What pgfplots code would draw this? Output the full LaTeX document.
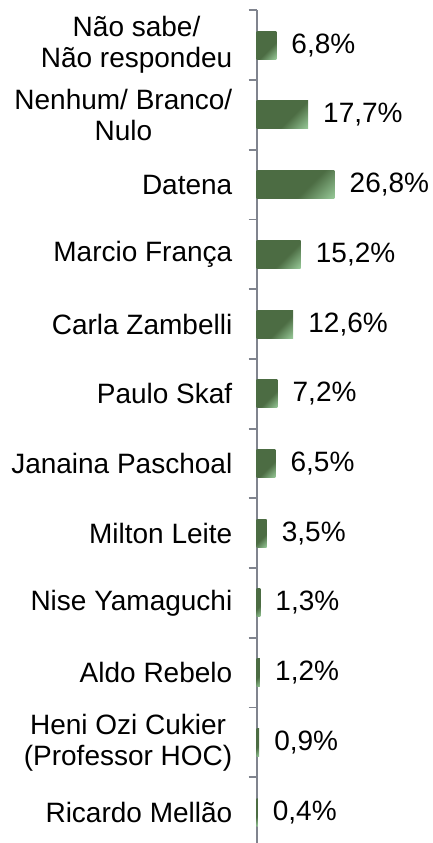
\documentclass[border=0pt]{standalone}
\usepackage{pgfplots}
\pgfplotsset{compat=1.18}
\usepackage{fontspec}
\setmainfont{Liberation Sans}
\definecolor{bardark}{RGB}{76,108,67}
\definecolor{barlight}{RGB}{160,212,162}
\definecolor{axisgray}{RGB}{128,132,142}
\pgfdeclarehorizontalshading{barshade}{100bp}{color(0bp)=(bardark); color(60bp)=(bardark); color(88bp)=(barlight); color(100bp)=(barlight)}
\newcommand{\lblfont}{\fontsize{28}{31}\selectfont}
\pgfplotsset{
  common/.style={
    at={(256.5pt,832.7pt)}, anchor=north west,
    scale only axis,
    width=145.5pt, height=836.7pt,
    xmin=0, xmax=50,
    ymin=-0.5, ymax=11.5,
    y dir=reverse,
    axis x line=none,
    axis y line=left,
    axis line style={-, draw=axisgray, line width=2pt},
    clip=false,
  },
  mybar/.style={xbar, bar width=28pt, bar shift=0pt, draw=none, shade, shading=barshade, shading angle=-45},
}
\begin{document}
\begin{tikzpicture}
\useasboundingbox (0,0) rectangle (432pt,843pt);
% axis with boundary ticks
\begin{axis}[
  common,
  ytick={-0.5,0.5,1.5,2.5,3.5,4.5,5.5,6.5,7.5,8.5,9.5,10.5,11.5},
  yticklabels={},
  major tick length=8pt,
  tick align=outside,
  ytick style={draw=axisgray, line width=1.8pt},
]
\addplot[draw=none] coordinates {(0,0)};
\end{axis}
% axis with bars and labels
\begin{axis}[
  common,
  ytick={0,...,11},
  major tick length=0pt,
  ytick style={draw=none},
  yticklabels={{Não sabe/\\Não respondeu},{Nenhum/ Branco/\\Nulo},Datena,Marcio França,Carla Zambelli,Paulo Skaf,Janaina Paschoal,Milton Leite,Nise Yamaguchi,Aldo Rebelo,{Heni Ozi Cukier\\(Professor HOC)},Ricardo Mellão},
  yticklabel style={align=center, anchor=east, inner sep=0pt, xshift=-24pt, font=\lblfont},
  point meta=x,
  nodes near coords={\pgfmathprintnumber[fixed,fixed zerofill,precision=1,use comma,assume math mode=true]{\pgfplotspointmeta}\%},
  nodes near coords style={anchor=west, inner sep=0pt, xshift=15pt, font=\lblfont, text=black},
]
\addplot[mybar] coordinates {(6.8,0)};
\addplot[mybar] coordinates {(17.7,1)};
\addplot[mybar] coordinates {(26.8,2)};
\addplot[mybar] coordinates {(15.2,3)};
\addplot[mybar] coordinates {(12.6,4)};
\addplot[mybar] coordinates {(7.2,5)};
\addplot[mybar] coordinates {(6.5,6)};
\addplot[mybar] coordinates {(3.5,7)};
\addplot[mybar] coordinates {(1.3,8)};
\addplot[mybar] coordinates {(1.2,9)};
\addplot[mybar] coordinates {(0.9,10)};
\addplot[mybar] coordinates {(0.4,11)};
\end{axis}
\end{tikzpicture}
\end{document}
